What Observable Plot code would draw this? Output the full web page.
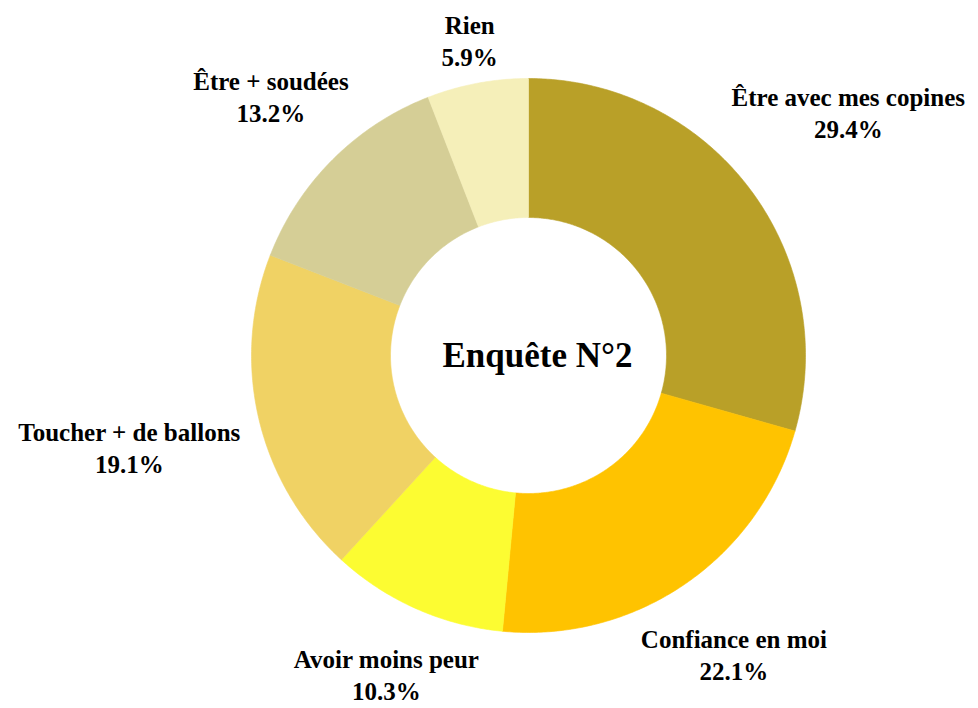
<!DOCTYPE html>
<html>
<head>
<meta charset="utf-8">
<script src="https://cdn.jsdelivr.net/npm/d3@7"></script>
<script src="https://cdn.jsdelivr.net/npm/@observablehq/plot@0.6"></script>
<style>
  html, body { margin: 0; padding: 0; background: #fff; }
  #chart { width: 978px; height: 708px; }
  #chart svg, #chart svg text, #chart svg tspan { font-family: "Liberation Serif", "Times New Roman", serif !important; }
</style>
</head>
<body>
<div id="chart"></div>
<script>
// ---- data ----
const categories = ["Être avec mes copines", "Confiance en moi", "Avoir moins peur", "Toucher + de ballons", "Être + soudées", "Rien"];
const values = [29.4, 22.1, 10.3, 19.1, 13.2, 5.9];
const colors = ["#B9A028", "#FFC300", "#FCFC32", "#F0D264", "#D5CE96", "#F5EFB9"];
const title = "Enquête N°2";

// ---- layout ----
const W = 978, H = 708;
const cx = 528, cy = 355;          // pie centre in pixels
const rOuter = 277, rInner = 138;
const serif = "Liberation Serif";
const labelFont = `bold 25px "${serif}"`;
const labelBase = 298, labelHalfH = 16, lineGap = 32;

const total = d3.sum(values);
const pie = d3.pie().sort(null).value(d => d)(values);

// polygons for each slice, in data units centred on the pie
const polys = [];
pie.forEach((p, i) => {
  const n = Math.max(2, Math.ceil((p.endAngle - p.startAngle) / (Math.PI / 360)));
  const pts = [];
  for (let k = 0; k <= n; k++) {
    const a = p.startAngle + (p.endAngle - p.startAngle) * k / n;
    pts.push({x: rOuter * Math.sin(a), y: rOuter * Math.cos(a)});
  }
  for (let k = n; k >= 0; k--) {
    const a = p.startAngle + (p.endAngle - p.startAngle) * k / n;
    pts.push({x: rInner * Math.sin(a), y: rInner * Math.cos(a)});
  }
  pts.push(pts[0]);
  pts.forEach((pt, j) => polys.push({...pt, key: categories[i], order: j}));
});

// label positions: outward from mid angle, pushed by text box size
const ctx = document.createElement("canvas").getContext("2d");
ctx.font = labelFont;
const labels = pie.map((p, i) => {
  const name = categories[i];
  const pct = `${(values[i] / total * 100).toFixed(1)}%`;
  const hw = Math.max(ctx.measureText(name).width, ctx.measureText(pct).width) / 2;
  const a = (p.startAngle + p.endAngle) / 2;
  const sx = Math.sin(a), cyv = Math.cos(a);
  const r = labelBase + Math.abs(sx) * hw + Math.abs(cyv) * labelHalfH;
  return {x: r * sx, y: r * cyv, name, pct};
});

const textStyle = {fontFamily: serif, fontSize: 25, fontWeight: "bold", textAnchor: "middle", lineAnchor: "middle", fill: "#000"};

const chart = Plot.plot({
  width: W,
  height: H,
  margin: 0,
  style: {fontFamily: `"${serif}", "Times New Roman", serif`, background: "#fff"},
  x: {domain: [-cx, W - cx], axis: null},
  y: {domain: [cy - H, cy], axis: null},
  color: {domain: categories, range: colors},
  marks: [
    Plot.line(polys, {x: "x", y: "y", z: "key", fill: "key", stroke: "key", strokeWidth: 0.6, curve: "linear"}),
    Plot.text(labels, {x: "x", y: "y", text: "name", dy: -lineGap / 2, ...textStyle}),
    Plot.text(labels, {x: "x", y: "y", text: "pct", dy: lineGap / 2, ...textStyle}),
    Plot.text([title], {x: () => 0, y: () => 0, text: d => d, dx: 9, ...textStyle, fontSize: 35})
  ]
});
document.getElementById("chart").appendChild(chart);
</script>
</body>
</html>
